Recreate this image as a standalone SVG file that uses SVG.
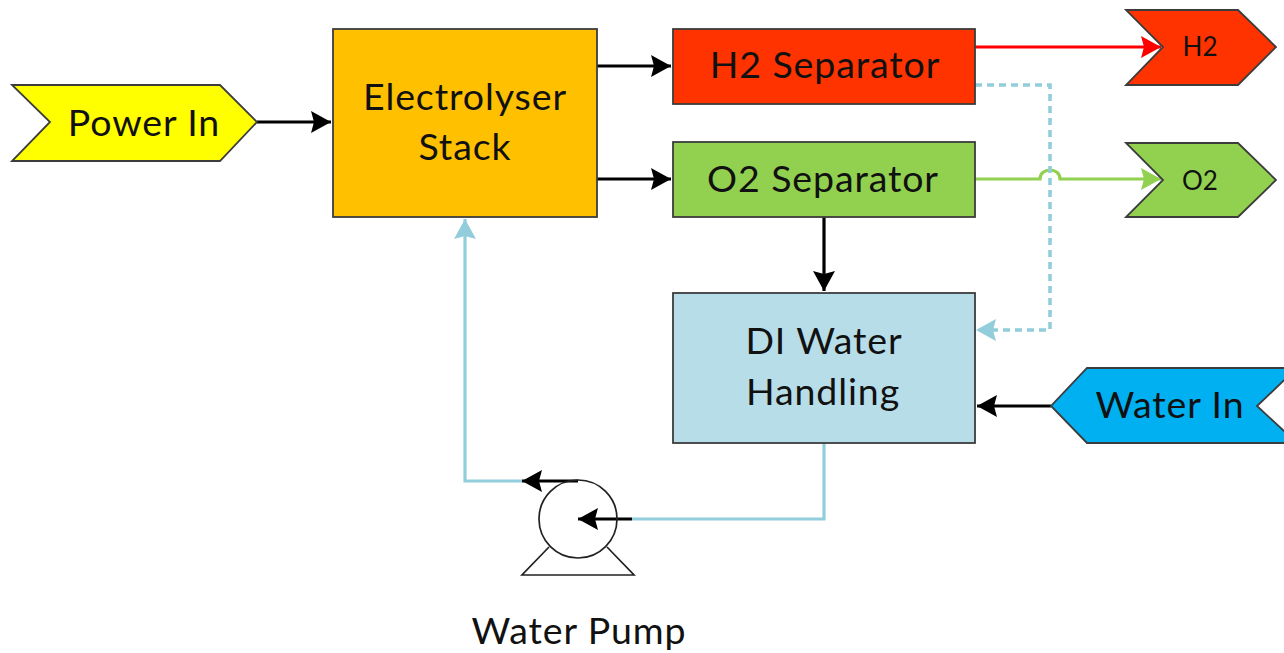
<svg xmlns="http://www.w3.org/2000/svg" width="1284" height="653" viewBox="0 0 1284 653">
<style>
.n{stroke:#3c3c3c;stroke-width:1.8}
text{font-family:Lato,"Open Sans","DejaVu Sans",sans-serif;fill:#111;text-anchor:middle}
.t{font-size:37.5px;letter-spacing:.9px}
.s{font-size:26px}
.c{fill:none;stroke-width:3.2}
.d{stroke-width:3.6;stroke-dasharray:7 5}
.k{stroke:#000}
.b{stroke:#92cddc}
</style>
<defs>
<marker id="ak" markerUnits="userSpaceOnUse" markerWidth="22" markerHeight="24" refX="20" refY="11" orient="auto"><path d="M0 0L20 11L0 22L3 11Z" fill="#000"/></marker>
<marker id="ar" markerUnits="userSpaceOnUse" markerWidth="22" markerHeight="24" refX="20" refY="11" orient="auto"><path d="M0 0L20 11L0 22L3 11Z" fill="#ff0000"/></marker>
<marker id="ag" markerUnits="userSpaceOnUse" markerWidth="22" markerHeight="24" refX="20" refY="11" orient="auto"><path d="M0 0L20 11L0 22L3 11Z" fill="#92d050"/></marker>
<marker id="ab" markerUnits="userSpaceOnUse" markerWidth="22" markerHeight="24" refX="20" refY="11" orient="auto"><path d="M0 0L20 11L0 22L3 11Z" fill="#92cddc"/></marker>
</defs>
<g id="connectors">
<path class="c k" d="M257 122H331" marker-end="url(#ak)"/>
<path class="c k" d="M597 66H671" marker-end="url(#ak)"/>
<path class="c k" d="M597 179H671" marker-end="url(#ak)"/>
<path class="c" stroke="#ff0000" d="M975 47H1161" marker-end="url(#ar)"/>
<path class="c" stroke="#92d050" d="M975 179H1040C1040 167 1060 167 1060 179H1161" marker-end="url(#ag)"/>
<path class="c b d" d="M975 85H1050V330H976" marker-end="url(#ab)"/>
<path class="c k" d="M824 217V291" marker-end="url(#ak)"/>
<path class="c k" d="M1051 406H977" marker-end="url(#ak)"/>
<path class="c b" d="M824 443V519H632"/>
<path class="c k" d="M632 519H578" marker-end="url(#ak)"/>
<path class="c b" d="M522 481H465V219" marker-end="url(#ab)"/>
<path class="c k" d="M578 481H522" marker-end="url(#ak)"/>
</g>
<g id="power-in"><path class="n" fill="#ffff00" d="M12 85H220L257 122L220 161H12L50 122Z"/><text class="t" x="144" y="136">Power In</text></g>
<g id="electrolyser-stack"><rect class="n" fill="#ffc000" x="333" y="29" width="264" height="188"/><text class="t" x="465" y="110">Electrolyser</text><text class="t" x="465" y="160">Stack</text></g>
<g id="h2-separator"><rect class="n" fill="#ff3300" x="673" y="29" width="302" height="75"/><text class="t" x="825" y="78">H2 Separator</text></g>
<g id="o2-separator"><rect class="n" fill="#92d050" x="673" y="142" width="302" height="75"/><text class="t" x="823" y="192">O2 Separator</text></g>
<g id="h2"><path class="n" fill="#ff3300" d="M1126 10H1238L1276 47L1238 85H1126L1163 47Z"/><text class="s" x="1200" y="56">H2</text></g>
<g id="o2"><path class="n" fill="#92d050" d="M1126 143H1238L1276 180L1238 217H1126L1163 180Z"/><text class="s" x="1200" y="190">O2</text></g>
<g id="di-water-handling"><rect class="n" fill="#b7dde8" x="673" y="293" width="302" height="150"/><text class="t" x="824" y="354">DI Water</text><text class="t" x="823" y="405">Handling</text></g>
<g id="water-in"><path class="n" fill="#00b0f0" d="M1297 368H1087L1051 406L1087 443H1297L1257 406Z"/><text class="t" x="1170" y="418">Water In</text></g>
<g id="water-pump"><circle cx="578" cy="519" r="39" fill="none" stroke="#222" stroke-width="1.7"/><path d="M549 547L522 575H634L607 547" fill="none" stroke="#222" stroke-width="1.7"/><text class="t" x="579" y="644">Water Pump</text></g>
</svg>
